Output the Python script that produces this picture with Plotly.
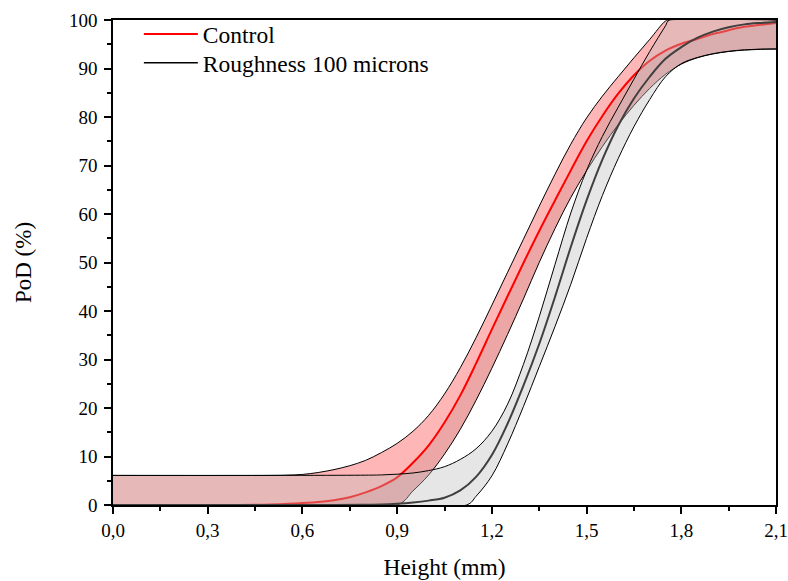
import plotly.graph_objects as go

# ---------------- data ----------------
# Control: mean PoD curve and its confidence bounds
ctrl_mean_x = [0.0, 0.4, 0.5, 0.6, 0.7, 0.75, 0.8, 0.85, 0.9, 0.95, 1.0, 1.05, 1.1, 1.15, 1.2,
               1.25, 1.3, 1.35, 1.4, 1.45, 1.5, 1.55, 1.6, 1.65, 1.7, 1.75, 1.8, 1.85, 1.9,
               1.95, 2.0, 2.05, 2.1]
ctrl_mean_y = [0.0, 0.0, 0.1, 0.4, 1.0, 1.6, 2.6, 3.9, 5.7, 8.7, 12.3, 17.0, 22.6, 29.2, 36.2,
               43.1, 49.9, 56.5, 62.8, 69.0, 75.0, 80.2, 84.8, 88.6, 91.6, 93.7, 95.1, 96.1, 97.1,
               97.9, 98.6, 99.0, 99.4]

ctrl_up_x = [0.0, 0.5, 0.55, 0.6, 0.65, 0.7, 0.75, 0.8, 0.85, 0.9, 0.95, 1.0, 1.05, 1.1, 1.15,
             1.2, 1.25, 1.3, 1.35, 1.4, 1.45, 1.5, 1.55, 1.6, 1.65, 1.7, 1.75, 1.76, 2.1]
ctrl_up_y = [6.1, 6.1, 6.15, 6.3, 6.7, 7.3, 8.1, 9.2, 10.8, 12.7, 15.2, 18.5, 22.9, 28.3, 34.5,
             41.2, 48.0, 54.8, 61.6, 68.2, 74.4, 79.8, 84.3, 88.3, 92.2, 96.0, 99.8, 100.0, 100.0]

ctrl_lo_x = [0.0, 0.9, 0.95, 1.0, 1.05, 1.1, 1.15, 1.2, 1.25, 1.3, 1.35, 1.4, 1.45, 1.5, 1.55,
             1.6, 1.65, 1.7, 1.75, 1.8, 1.85, 1.9, 1.95, 2.0, 2.05, 2.1]
ctrl_lo_y = [0.0, 0.0, 2.9, 6.2, 10.5, 15.6, 21.6, 28.2, 35.2, 42.5, 50.0, 57.0, 63.4, 68.9, 73.9,
             78.4, 82.4, 85.9, 88.8, 90.9, 92.2, 93.0, 93.5, 93.8, 93.95, 94.0]

# Roughness 100 microns: mean PoD curve and its confidence bounds
rough_mean_x = [0.0, 0.7, 0.8, 0.85, 0.9, 0.95, 1.0, 1.05, 1.1, 1.15, 1.2, 1.25, 1.3, 1.35, 1.4,
                1.45, 1.5, 1.55, 1.6, 1.65, 1.7, 1.75, 1.8, 1.85, 1.9, 1.95, 2.0, 2.05, 2.1]
rough_mean_y = [0.0, 0.0, 0.05, 0.1, 0.25, 0.5, 0.9, 1.5, 3.0, 5.8, 10.3, 16.8, 24.6, 33.2, 42.9,
                53.2, 62.8, 71.2, 78.2, 83.8, 88.3, 92.0, 94.4, 96.3, 97.6, 98.5, 99.1, 99.4, 99.6]

rough_up_x = [0.0, 0.8, 0.85, 0.9, 0.95, 1.0, 1.05, 1.1, 1.15, 1.2, 1.25, 1.3, 1.35, 1.4, 1.45,
              1.5, 1.55, 1.6, 1.65, 1.7, 1.75, 1.762, 2.1]
rough_up_y = [6.1, 6.15, 6.2, 6.35, 6.6, 7.1, 7.9, 9.4, 11.6, 15.2, 20.8, 29.0, 38.8, 49.6, 60.2,
              69.0, 76.0, 82.0, 87.8, 93.5, 98.8, 100.0, 100.0]

rough_lo_x = [0.0, 1.12, 1.15, 1.2, 1.25, 1.3, 1.35, 1.4, 1.45, 1.5, 1.55, 1.6, 1.65, 1.7, 1.75,
              1.8, 1.85, 1.9, 1.95, 2.0, 2.05, 2.1]
rough_lo_y = [0.0, 0.0, 1.8, 6.0, 12.6, 20.3, 28.5, 36.8, 45.5, 55.0, 63.8, 71.4, 78.0, 83.6, 88.3,
              91.0, 92.25, 93.05, 93.55, 93.85, 94.0, 94.05]

x_ticks = [0.0, 0.3, 0.6, 0.9, 1.2, 1.5, 1.8, 2.1]
y_ticks = [0, 10, 20, 30, 40, 50, 60, 70, 80, 90, 100]

# ---------------- styling ----------------
FONT = "Liberation Serif"
SPL = dict(shape="spline", smoothing=1.0)

fig = go.Figure()

# Control band: upper -> mean (light red), mean -> lower (darker red)
fig.add_trace(go.Scatter(x=ctrl_up_x, y=ctrl_up_y, mode="lines",
                         line=dict(color="black", width=1, **SPL),
                         showlegend=False, hoverinfo="skip"))
fig.add_trace(go.Scatter(x=ctrl_mean_x, y=ctrl_mean_y, mode="lines",
                         line=dict(color="rgba(0,0,0,0)", width=0, **SPL),
                         fill="tonexty", fillcolor="rgba(255,0,0,0.286)",
                         showlegend=False, hoverinfo="skip"))
fig.add_trace(go.Scatter(x=ctrl_lo_x, y=ctrl_lo_y, mode="lines",
                         line=dict(color="black", width=1, **SPL),
                         fill="tonexty", fillcolor="rgba(200,0,0,0.35)",
                         showlegend=False, hoverinfo="skip"))
# Control mean line
fig.add_trace(go.Scatter(x=ctrl_mean_x, y=ctrl_mean_y, mode="lines",
                         line=dict(color="#ff0000", width=2, **SPL),
                         name="Control", legend="legend"))

# Roughness band (drawn on top, semi-transparent grey)
fig.add_trace(go.Scatter(x=rough_up_x, y=rough_up_y, mode="lines",
                         line=dict(color="black", width=1, **SPL),
                         showlegend=False, hoverinfo="skip"))
fig.add_trace(go.Scatter(x=rough_lo_x, y=rough_lo_y, mode="lines",
                         line=dict(color="black", width=1, **SPL),
                         fill="tonexty", fillcolor="rgba(187,187,187,0.37)",
                         showlegend=False, hoverinfo="skip"))
# Roughness mean line
fig.add_trace(go.Scatter(x=rough_mean_x, y=rough_mean_y, mode="lines",
                         line=dict(color="#3f3f3f", width=2, **SPL),
                         showlegend=False))
# legend entry for Roughness (black line sample)
fig.add_trace(go.Scatter(x=[None], y=[None], mode="lines",
                         line=dict(color="black", width=1.5),
                         name="Roughness 100 microns", legend="legend2"))

axis_common = dict(showline=True, linecolor="black", linewidth=1.5, mirror=True,
                   ticks="outside", ticklen=7, tickwidth=1.5, tickcolor="black",
                   showgrid=False, zeroline=False, automargin=False,
                   ticklabeloverflow="allow",
                   tickfont=dict(family=FONT, size=19, color="black"))

fig.update_xaxes(range=[0, 2.1], tickvals=x_ticks, tickformat=".1f",
                 minor=dict(ticks="outside", ticklen=4, tickwidth=1.5, tickcolor="black", dtick=0.15, tick0=0),
                 title=dict(text="Height (mm)", font=dict(family=FONT, size=23.5, color="black"), standoff=19),
                 **axis_common)
fig.update_yaxes(range=[0, 100], tickvals=y_ticks, ticklabelstandoff=3,
                 minor=dict(ticks="outside", ticklen=4, tickwidth=1.5, tickcolor="black", dtick=5, tick0=0),
                 title=dict(text="PoD (%)", font=dict(family=FONT, size=23, color="black"), standoff=31),
                 **axis_common)

legend_common = dict(xanchor="left", yanchor="top", bgcolor="rgba(0,0,0,0)", borderwidth=0,
                     itemwidth=54, font=dict(family=FONT, size=23.5, color="black"))

fig.update_layout(
    width=788, height=581,
    margin=dict(l=113, r=12, t=16, b=76),
    plot_bgcolor="white", paper_bgcolor="white",
    separators=",.",
    font=dict(family=FONT, color="black"),
    legend=dict(x=0.039, y=1.016, **legend_common),
    legend2=dict(x=0.039, y=0.957, **legend_common),
    showlegend=True,
)

fig.write_html("out.html")
